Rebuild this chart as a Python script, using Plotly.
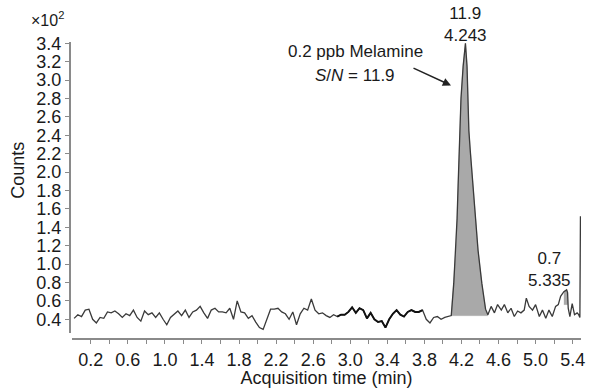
import numpy as np
import plotly.graph_objects as go

# ---------------- data (counts in units of x10^2) ----------------
baseline_values = [
    0.41, 0.45, 0.43, 0.50, 0.51, 0.40, 0.36, 0.42, 0.41, 0.48,
    0.47, 0.49, 0.46, 0.42, 0.46, 0.44, 0.50, 0.42, 0.38, 0.49,
    0.45, 0.47, 0.42, 0.47, 0.40,
    0.34, 0.42, 0.46, 0.49, 0.44, 0.50, 0.42, 0.48, 0.50, 0.54,
    0.47, 0.41, 0.50, 0.52, 0.48, 0.48, 0.47, 0.52, 0.40, 0.60,
    0.48, 0.47, 0.41, 0.44, 0.37,
    0.31, 0.29, 0.40, 0.51, 0.51, 0.52, 0.48, 0.46, 0.40, 0.48,
    0.34, 0.46, 0.52, 0.50, 0.62, 0.50, 0.46, 0.47, 0.44, 0.42,
    0.45, 0.43, 0.45, 0.45, 0.48,
    0.53, 0.47, 0.52, 0.50, 0.41, 0.47, 0.40, 0.37, 0.38, 0.31,
    0.40, 0.46, 0.50, 0.45, 0.43, 0.48, 0.50, 0.48, 0.48, 0.50,
    0.40, 0.36, 0.42, 0.43, 0.40,
    0.42, 0.43,
]
baseline_times = np.round(np.linspace(0.02, 4.06, len(baseline_values)), 3).tolist()

peak_times = [4.09, 4.117, 4.139, 4.153, 4.164, 4.178, 4.195, 4.218, 4.243, 4.26,
              4.27, 4.28, 4.296, 4.325, 4.35, 4.379, 4.42, 4.46, 4.485]
peak_values = [0.44, 0.79, 1.15, 1.50, 1.86, 2.40, 2.80, 3.15, 3.40, 3.15,
               2.75, 2.45, 2.22, 1.86, 1.50, 1.15, 0.79, 0.51, 0.45]
peak_base = 0.44

tail_times = [4.52, 4.556, 4.59, 4.63, 4.663, 4.70, 4.735, 4.77, 4.806, 4.842,
              4.877, 4.90, 4.93, 4.967, 5.00, 5.04, 5.074, 5.11, 5.144, 5.18,
              5.216, 5.245, 5.27, 5.305, 5.335, 5.345, 5.352, 5.37, 5.395, 5.42,
              5.448, 5.465, 5.478, 5.484]
tail_values = [0.54, 0.47, 0.56, 0.50, 0.56, 0.47, 0.52, 0.43, 0.49, 0.47,
               0.50, 0.63, 0.54, 0.50, 0.56, 0.43, 0.50, 0.41, 0.50, 0.43,
               0.54, 0.56, 0.65, 0.70, 0.72, 0.69, 0.52, 0.43, 0.57, 0.45,
               0.47, 0.45, 0.42, 1.52]
small_peak_window = (5.29, 5.35)
small_peak_base = 0.56

bold_window = (2.86, 3.80)

y_ticks = [round(0.4 + 0.2 * i, 1) for i in range(16)]
x_ticks = [round(0.2 + 0.2 * i, 1) for i in range(27)]
x_labels = [f"{v:.1f}" if i % 2 == 0 else "" for i, v in enumerate(x_ticks)]

main_peak_label = ["11.9", "4.243"]
small_peak_label = ["0.7", "5.335"]
compound_label = ["0.2 ppb Melamine", "<i>S</i>/<i>N</i> = 11.9"]

# ---------------- figure ----------------
OFF = 0  # body margin removed by post_script below
W, H = 591 - OFF, 388 - OFF
ML, MR, MT, MB = 70 - OFF, 6, 42 - OFF, 45
PW, PH = W - ML - MR, H - MT - MB


def px(xp):
    return (xp - OFF - ML) / PW


def py(yp):
    return (H - MB - (yp - OFF)) / PH


all_t = baseline_times + peak_times + tail_times
all_v = baseline_values + peak_values + tail_values

FONT = "Liberation Sans, Arial, sans-serif"
LINE = "#3a3a3a"

fig = go.Figure()

# main peak fill
fig.add_trace(go.Scatter(
    x=peak_times + [peak_times[-1], peak_times[0]],
    y=peak_values + [peak_base, peak_base],
    fill="toself", fillcolor="#a9a9a9", mode="lines",
    line=dict(color="#999", width=0.5), hoverinfo="skip", showlegend=False))

# small peak fill
sp_t = [t for t in tail_times if small_peak_window[0] <= t <= small_peak_window[1]]
sp_v = [v for t, v in zip(tail_times, tail_values) if small_peak_window[0] <= t <= small_peak_window[1]]
fig.add_trace(go.Scatter(
    x=sp_t + [sp_t[-1], sp_t[0]],
    y=[max(v, small_peak_base) for v in sp_v] + [small_peak_base, small_peak_base],
    fill="toself", fillcolor="#a9a9a9", mode="lines",
    line=dict(color="#999", width=0.5), hoverinfo="skip", showlegend=False))

# chromatogram trace
fig.add_trace(go.Scatter(x=all_t, y=all_v, mode="lines",
                         line=dict(color=LINE, width=1.3), showlegend=False))

# darker segment
bt = [t for t in all_t if bold_window[0] <= t <= bold_window[1]]
bv = [v for t, v in zip(all_t, all_v) if bold_window[0] <= t <= bold_window[1]]
fig.add_trace(go.Scatter(x=bt, y=bv, mode="lines",
                         line=dict(color="#111", width=1.9), showlegend=False))


def label(text, xp, yp, size=18, xref="paper", xval=None, **kw):
    return dict(text=text, xref=xref, yref="paper",
                x=px(xp) if xval is None else xval, y=py(yp),
                xanchor="center", yanchor="middle", showarrow=False,
                borderpad=0, font=dict(size=size), **kw)


ann = [
    label("×10<sup>2</sup>", 47, 19, size=16),
    label("Counts", 18, 172, textangle=-90),
    label(main_peak_label[0] + "<br>" + main_peak_label[1], 0, 24, size=17,
          xref="x", xval=4.243),
    label(small_peak_label[0] + "<br>" + small_peak_label[1], 553, 273, size=17),
    label(compound_label[0], 358, 52, size=17),
    label(compound_label[1], 357, 76, size=17),
    dict(text="", xref="paper", yref="paper", x=px(454), y=py(86),
         axref="pixel", ayref="pixel", ax=-39, ay=-18,
         showarrow=True, arrowhead=2, arrowsize=1.1, arrowwidth=1.5, arrowcolor="#222"),
]

fig.update_layout(
    width=W, height=H,
    margin=dict(l=ML, r=MR, t=MT, b=MB),
    paper_bgcolor="white", plot_bgcolor="white",
    font=dict(family=FONT, size=18, color="#1a1a1a"),
    annotations=ann,
    hovermode=False,
    xaxis=dict(
        domain=[px(72), 1], range=[-0.003, 5.49], anchor="free", position=0,
        showline=True, linecolor="#8a8a8a", linewidth=2,
        ticks="outside", ticklen=4, tickwidth=1.3, tickcolor="#8a8a8a",
        tickvals=x_ticks, ticktext=x_labels, showgrid=False, zeroline=False,
        title=dict(text="Acquisition time (min)", font=dict(size=18), standoff=0),
    ),
    yaxis=dict(
        domain=[py(337), 1], range=[0.25, 3.415], anchor="free", position=0,
        showline=True, linecolor="#8a8a8a", linewidth=2,
        ticks="outside", ticklen=4, tickwidth=1.3, tickcolor="#8a8a8a",
        tickvals=y_ticks, ticktext=[f"{v:.1f}" for v in y_ticks],
        showgrid=False, zeroline=False,
    ),
)

fig.write_html("out.html",
               config={"displayModeBar": False},
               post_script="document.body.style.margin='0';document.body.style.overflow='hidden';")
